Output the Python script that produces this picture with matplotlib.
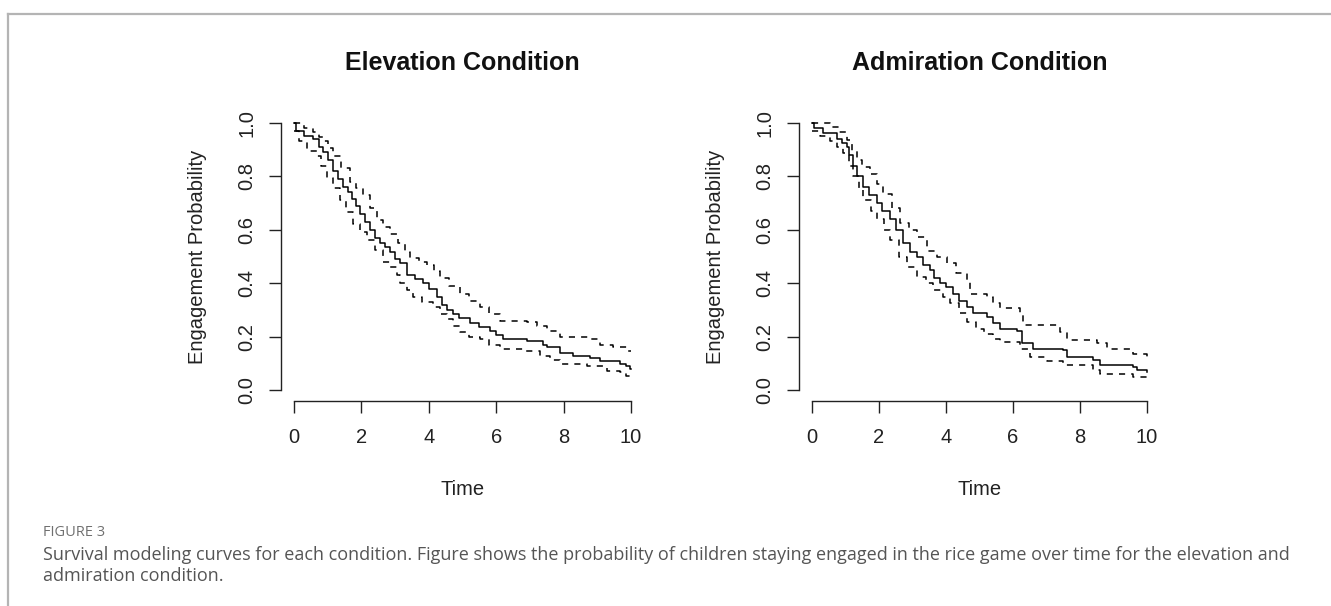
import matplotlib.pyplot as plt
from matplotlib.lines import Line2D

# Kaplan-Meier estimates (time, probability)
elev_t = [0, 0.05, 0.3, 0.57, 0.75, 0.87, 1.0, 1.17, 1.3, 1.46, 1.6, 1.71, 1.85, 1.96, 2.1, 2.26,
          2.4, 2.55, 2.7, 2.85, 3.0, 3.15, 3.34, 3.6, 3.84, 4.0, 4.23, 4.4, 4.55, 4.73, 4.9, 5.22,
          5.5, 5.82, 6.0, 6.21, 6.9, 7.4, 7.5, 7.9, 8.28, 8.78, 9.08, 9.67, 9.85, 9.97, 10.0]
elev_p = [1.0, 0.97, 0.95, 0.94, 0.91, 0.89, 0.86, 0.82, 0.79, 0.76, 0.74, 0.715, 0.69, 0.66, 0.63, 0.60,
          0.57, 0.55, 0.535, 0.515, 0.49, 0.475, 0.43, 0.415, 0.40, 0.38, 0.35, 0.32, 0.30, 0.285, 0.27, 0.253,
          0.235, 0.22, 0.205, 0.19, 0.185, 0.17, 0.16, 0.14, 0.13, 0.12, 0.11, 0.10, 0.09, 0.08, 0.08]
elev_up_t = [0, 0.3, 0.57, 0.75, 0.87, 1.0, 1.17, 1.4, 1.66, 1.85, 2.05, 2.25, 2.46, 2.65, 2.85, 3.1,
             3.3, 3.44, 3.7, 3.95, 4.15, 4.33, 4.6, 4.93, 5.2, 5.52, 5.8, 6.11, 6.9, 7.2, 7.5, 7.9,
             8.78, 9.08, 9.47, 9.9, 10.0]
elev_up_p = [1.0, 0.98, 0.965, 0.945, 0.93, 0.905, 0.877, 0.83, 0.78, 0.755, 0.73, 0.68, 0.635, 0.61, 0.585, 0.55,
             0.515, 0.495, 0.48, 0.47, 0.445, 0.42, 0.39, 0.36, 0.335, 0.31, 0.285, 0.26, 0.255, 0.24, 0.22, 0.20,
             0.19, 0.17, 0.16, 0.148, 0.145]
elev_lo_t = [0, 0.15, 0.38, 0.67, 0.8, 0.97, 1.15, 1.37, 1.55, 1.76, 1.95, 2.16, 2.4, 2.65, 2.85, 3.05,
             3.15, 3.35, 3.54, 3.8, 4.13, 4.33, 4.53, 4.73, 4.93, 5.2, 5.52, 5.8, 6.11, 6.8, 7.3, 7.6,
             7.9, 8.69, 9.28, 9.67, 9.85, 9.97, 10.0]
elev_lo_p = [0.97, 0.93, 0.895, 0.877, 0.84, 0.795, 0.755, 0.71, 0.665, 0.62, 0.59, 0.56, 0.525, 0.48, 0.46, 0.43,
             0.40, 0.375, 0.35, 0.33, 0.31, 0.285, 0.266, 0.24, 0.216, 0.20, 0.19, 0.17, 0.154, 0.148, 0.13, 0.115,
             0.098, 0.092, 0.073, 0.067, 0.055, 0.048, 0.048]

adm_t = [0, 0.05, 0.34, 0.74, 0.9, 1.03, 1.1, 1.23, 1.35, 1.53, 1.7, 1.93, 2.1, 2.33, 2.5, 2.73,
         2.93, 3.13, 3.3, 3.52, 3.65, 3.82, 4.0, 4.22, 4.4, 4.62, 4.82, 5.21, 5.4, 5.61, 6.11, 6.26,
         6.6, 7.5, 7.6, 8.4, 8.6, 9.59, 9.69, 10.0]
adm_p = [1.0, 0.98, 0.96, 0.94, 0.925, 0.91, 0.88, 0.84, 0.80, 0.76, 0.73, 0.70, 0.67, 0.64, 0.60, 0.55,
         0.515, 0.50, 0.47, 0.45, 0.42, 0.40, 0.385, 0.36, 0.335, 0.31, 0.29, 0.275, 0.25, 0.23, 0.22, 0.175,
         0.156, 0.15, 0.125, 0.112, 0.094, 0.087, 0.075, 0.069]
adm_up_t = [0, 0.54, 0.8, 1.04, 1.2, 1.33, 1.5, 1.73, 1.95, 2.13, 2.4, 2.63, 2.9, 3.13, 3.42, 3.72,
            4.02, 4.3, 4.62, 4.72, 5.21, 5.4, 5.61, 6.2, 6.3, 7.4, 7.6, 8.5, 8.8, 9.59, 10.0]
adm_up_p = [1.0, 0.985, 0.965, 0.935, 0.895, 0.86, 0.835, 0.81, 0.77, 0.735, 0.68, 0.625, 0.60, 0.574, 0.52, 0.50,
            0.475, 0.44, 0.41, 0.36, 0.35, 0.325, 0.306, 0.28, 0.243, 0.218, 0.187, 0.175, 0.156, 0.137, 0.119]
adm_lo_t = [0, 0.25, 0.54, 0.75, 0.93, 1.1, 1.23, 1.4, 1.53, 1.75, 1.93, 2.15, 2.33, 2.6, 2.83, 3.13,
            3.4, 3.62, 3.9, 4.12, 4.4, 4.62, 4.9, 5.12, 5.4, 5.61, 6.2, 6.5, 7.0, 7.5, 8.4, 8.6,
            9.59, 10.0]
adm_lo_p = [0.97, 0.95, 0.93, 0.91, 0.886, 0.84, 0.80, 0.75, 0.71, 0.67, 0.64, 0.60, 0.56, 0.50, 0.46, 0.424,
            0.40, 0.375, 0.35, 0.325, 0.29, 0.256, 0.23, 0.212, 0.19, 0.18, 0.156, 0.125, 0.11, 0.094, 0.075, 0.062,
            0.05, 0.044]

titles = ["Elevation Condition", "Admiration Condition"]
x_ticks = [0, 2, 4, 6, 8, 10]
y_ticks = [0.0, 0.2, 0.4, 0.6, 0.8, 1.0]

W, H = 1331, 606
fig = plt.figure(figsize=(W / 100, H / 100), dpi=100)

r_font = "Liberation Sans"
cap_font = "Open Sans"

# axes boxes in pixels: (left, right, top, bottom)
boxes = [(280.5, 644.5, 112, 401), (798.6, 1160.4, 112, 401)]
curves = [(elev_t, elev_p, elev_up_t, elev_up_p, elev_lo_t, elev_lo_p),
          (adm_t, adm_p, adm_up_t, adm_up_p, adm_lo_t, adm_lo_p)]

for (l, r, t, b), title, (st, sp, ut, up, lt, lp) in zip(boxes, titles, curves):
    ax = fig.add_axes([l / W, 1 - b / H, (r - l) / W, (b - t) / H])
    ax.step(st, sp, where="post", color="black", lw=1.1)
    ax.step(ut, up, where="post", color="black", lw=1.1, linestyle=(0, (4, 4)))
    ax.step(lt, lp, where="post", color="black", lw=1.1, linestyle=(0, (4, 4)))

    ax.set_xlim(-0.4, 10.4)
    ax.set_ylim(-0.04, 1.04)
    ax.set_xticks(x_ticks)
    ax.set_yticks(y_ticks)
    ax.set_xticklabels([str(v) for v in x_ticks], family=r_font, fontsize=14.5)
    ax.set_yticklabels(["%.1f" % v for v in y_ticks], family=r_font, fontsize=14.5,
                       rotation=90, va="center")
    ax.tick_params(direction="out", length=8.5, width=1, pad=11, colors="#222222")
    ax.tick_params(axis="y", pad=9)

    for s in ["top", "right"]:
        ax.spines[s].set_visible(False)
    ax.spines["left"].set_bounds(0, 1)
    ax.spines["bottom"].set_bounds(0, 10)
    for s in ["left", "bottom"]:
        ax.spines[s].set_linewidth(1)
        ax.spines[s].set_color("#222222")

    ax.set_title(title, family=r_font, fontsize=18, fontweight="bold", pad=30, color="#111111")
    ax.set_xlabel("Time", family=r_font, fontsize=14.5, labelpad=24, color="#222222")
    ax.set_ylabel("Engagement Probability", family=r_font, fontsize=14.5, labelpad=22, color="#222222")

# frame around the figure panel
fig.add_artist(Line2D([8 / W, 1], [1 - 14 / H, 1 - 14 / H], color="#b4b4b4", lw=1.6,
                      transform=fig.transFigure))
fig.add_artist(Line2D([8 / W, 8 / W], [1 - 14 / H, 0], color="#b4b4b4", lw=1.6,
                      transform=fig.transFigure))

fig.text(43 / W, 1 - 532 / H, "FIGURE 3", family=cap_font, fontsize=10.5, color="#707070", va="center")
fig.text(43 / W, 1 - 555 / H,
         "Survival modeling curves for each condition. Figure shows the probability of children staying engaged "
         "in the rice game over time for the elevation and",
         family=cap_font, fontsize=13, color="#555555", va="center")
fig.text(43 / W, 1 - 576 / H, "admiration condition.", family=cap_font, fontsize=13, color="#555555", va="center")

fig.savefig("out.png", dpi=100)
